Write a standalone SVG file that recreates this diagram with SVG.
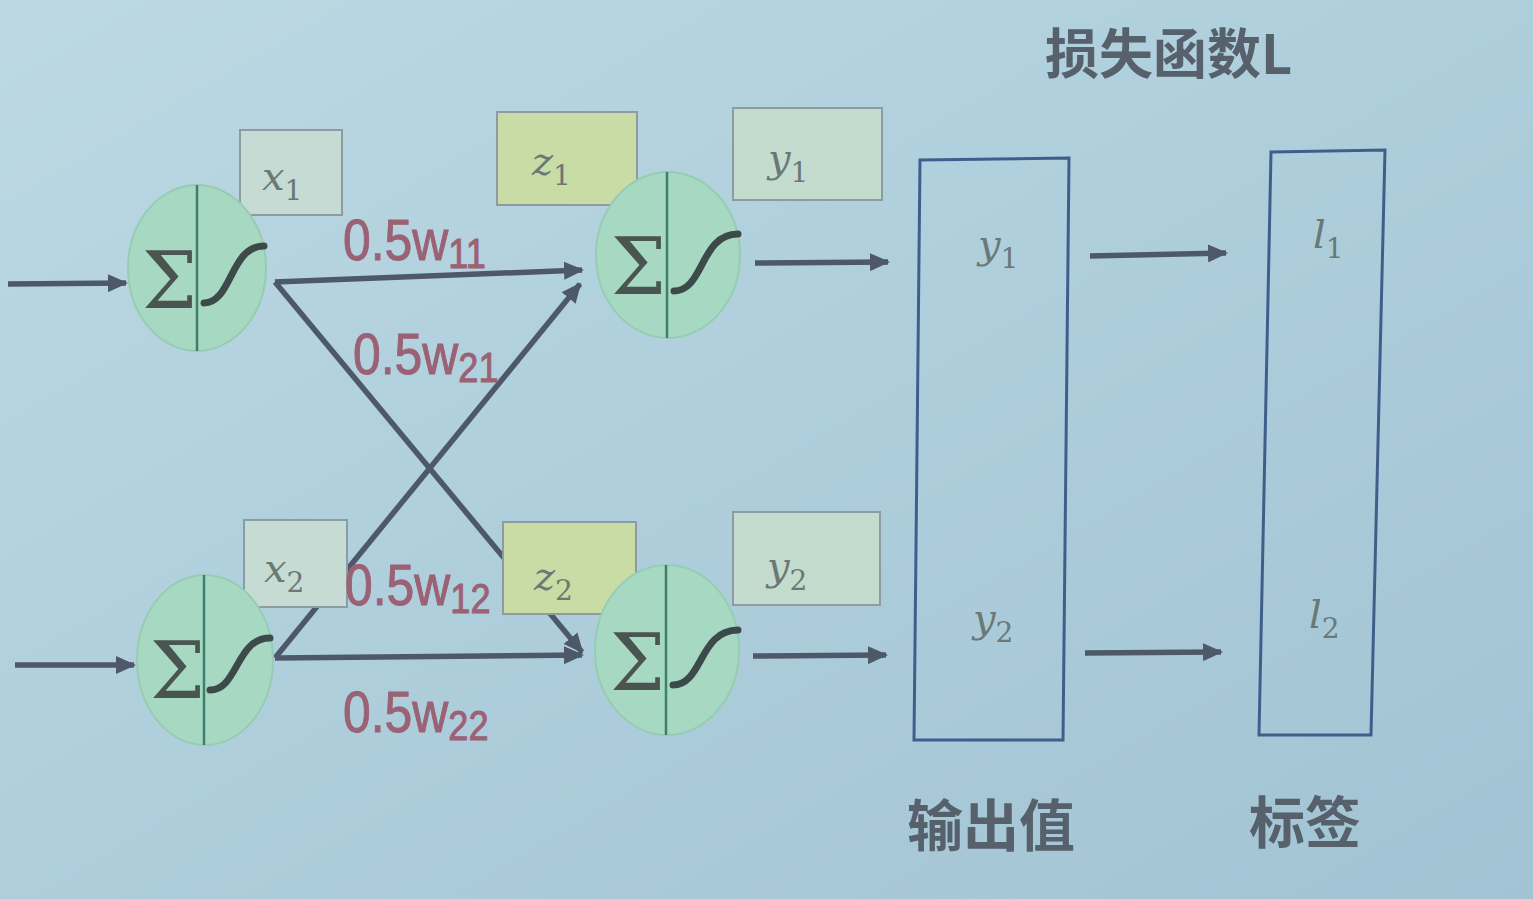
<svg xmlns="http://www.w3.org/2000/svg" width="1533" height="899" viewBox="0 0 1533 899">
<defs>
<linearGradient id="bg" x1="0" y1="0" x2="1" y2="1">
<stop offset="0" stop-color="#bcd9e3"/>
<stop offset="0.5" stop-color="#aecedc"/>
<stop offset="1" stop-color="#a2c3d3"/>
</linearGradient>
<marker id="ah" markerUnits="userSpaceOnUse" markerWidth="20" markerHeight="18" refX="18" refY="9" orient="auto">
<path d="M0,0 L20,9 L0,18 Z" fill="#4d5868"/>
</marker>
<style>
.node ellipse{fill:#a7d8c2;stroke:#96cdb2;stroke-width:2}
.div{stroke:#3f7f6e;stroke-width:2.5}
.sig{fill:none;stroke:#3d4a4a;stroke-width:7;stroke-linecap:round}
.sum{font-family:"DejaVu Serif","Liberation Serif",serif;font-size:78px;fill:#4a5552}
.conn line{stroke:#4d5868;stroke-width:5.5;marker-end:url(#ah)}
.box{stroke:#8d9ca2;stroke-width:2}
.bx{fill:#c6dbd3}
.bz{fill:#c9dca6}
.by{fill:#c4dccd}
.m{font-family:"DejaVu Serif","Liberation Serif",serif;font-style:italic;font-size:40px;fill:#6a7876}
.m .s{font-style:normal;font-size:28px}
.w{font-family:"Liberation Sans","DejaVu Sans",sans-serif;font-size:58px;fill:#9a6274;stroke:#9a6274;stroke-width:1}
.w .s{font-size:42px}
.cn{font-family:"Noto Sans CJK SC","Noto Sans",sans-serif;font-weight:bold;fill:#56616b}
.frame{fill:none;stroke:#3e5f8c;stroke-width:3}
</style>
</defs>
<rect x="0" y="0" width="1533" height="899" fill="url(#bg)"/>

<g id="connectors" class="conn">
<line x1="8" y1="284" x2="126" y2="283"/>
<line x1="15" y1="665" x2="134" y2="665"/>
<line x1="275" y1="282" x2="582" y2="270"/>
<line x1="275" y1="282" x2="582" y2="652"/>
<line x1="275" y1="658" x2="580" y2="284"/>
<line x1="275" y1="658" x2="582" y2="655"/>
<line x1="755" y1="263" x2="888" y2="262"/>
<line x1="753" y1="656" x2="886" y2="655"/>
<line x1="1090" y1="256" x2="1226" y2="253"/>
<line x1="1085" y1="653" x2="1221" y2="652"/>
</g>

<g id="box-x1"><rect class="box bx" x="240" y="130" width="102" height="85"/><text class="m" x="262" y="190">x<tspan class="s" dy="10">1</tspan></text></g>
<g id="box-x2"><rect class="box bx" x="244" y="520" width="103" height="87"/><text class="m" x="264" y="582">x<tspan class="s" dy="10">2</tspan></text></g>
<g id="box-z1"><rect class="box bz" x="497" y="112" width="140" height="93"/><text class="m" x="532" y="175">z<tspan class="s" dy="10">1</tspan></text></g>
<g id="box-z2"><rect class="box bz" x="503" y="522" width="133" height="92"/><text class="m" x="534" y="590">z<tspan class="s" dy="10">2</tspan></text></g>
<g id="box-y1"><rect class="box by" x="733" y="108" width="149" height="92"/><text class="m" x="768" y="172">y<tspan class="s" dy="10">1</tspan></text></g>
<g id="box-y2"><rect class="box by" x="733" y="512" width="147" height="93"/><text class="m" x="767" y="580">y<tspan class="s" dy="10">2</tspan></text></g>

<g id="node-h1" class="node">
<ellipse cx="197" cy="268" rx="69" ry="83"/>
<line class="div" x1="197" y1="185" x2="197" y2="351"/>
<text class="sum" x="142" y="308">Σ</text>
<path class="sig" d="M204,303 C232,303 230,246 264,246"/>
</g>
<g id="node-h2" class="node">
<ellipse cx="205" cy="660" rx="68" ry="85"/>
<line class="div" x1="204" y1="575" x2="204" y2="745"/>
<text class="sum" x="150" y="698">Σ</text>
<path class="sig" d="M210,690 C238,690 236,638 270,638"/>
</g>
<g id="node-o1" class="node">
<ellipse cx="668" cy="255" rx="72" ry="83"/>
<line class="div" x1="667" y1="172" x2="667" y2="338"/>
<text class="sum" x="611" y="294">Σ</text>
<path class="sig" d="M674,291 C704,291 700,234 738,234"/>
</g>
<g id="node-o2" class="node">
<ellipse cx="667" cy="650" rx="72" ry="85"/>
<line class="div" x1="666" y1="565" x2="666" y2="735"/>
<text class="sum" x="610" y="690">Σ</text>
<path class="sig" d="M673,685 C703,685 699,630 738,630"/>
</g>

<g id="weights">
<text class="w" transform="translate(343,260) scale(0.86,1)">0.5w<tspan class="s" dy="8">11</tspan></text>
<text class="w" transform="translate(353,374) scale(0.86,1)">0.5w<tspan class="s" dy="8">21</tspan></text>
<text class="w" transform="translate(345,605) scale(0.86,1)">0.5w<tspan class="s" dy="8">12</tspan></text>
<text class="w" transform="translate(343,732) scale(0.86,1)">0.5w<tspan class="s" dy="8">22</tspan></text>
</g>

<g id="output-box">
<path class="frame" d="M920,160 L1069,158 L1063,740 L914,740 Z"/>
<text class="m" x="978" y="258">y<tspan class="s" dy="10">1</tspan></text>
<text class="m" x="973" y="632">y<tspan class="s" dy="10">2</tspan></text>
</g>
<g id="label-box">
<path class="frame" d="M1271,152 L1385,150 L1371,735 L1259,735 Z"/>
<text class="m" x="1313" y="248">l<tspan class="s" dy="10">1</tspan></text>
<text class="m" x="1309" y="628">l<tspan class="s" dy="10">2</tspan></text>
</g>

<text class="cn" x="1045" y="74" font-size="54">损失函数L</text>
<text class="cn" x="907" y="846" font-size="56">输出值</text>
<text class="cn" x="1249" y="843" font-size="56">标签</text>
</svg>
